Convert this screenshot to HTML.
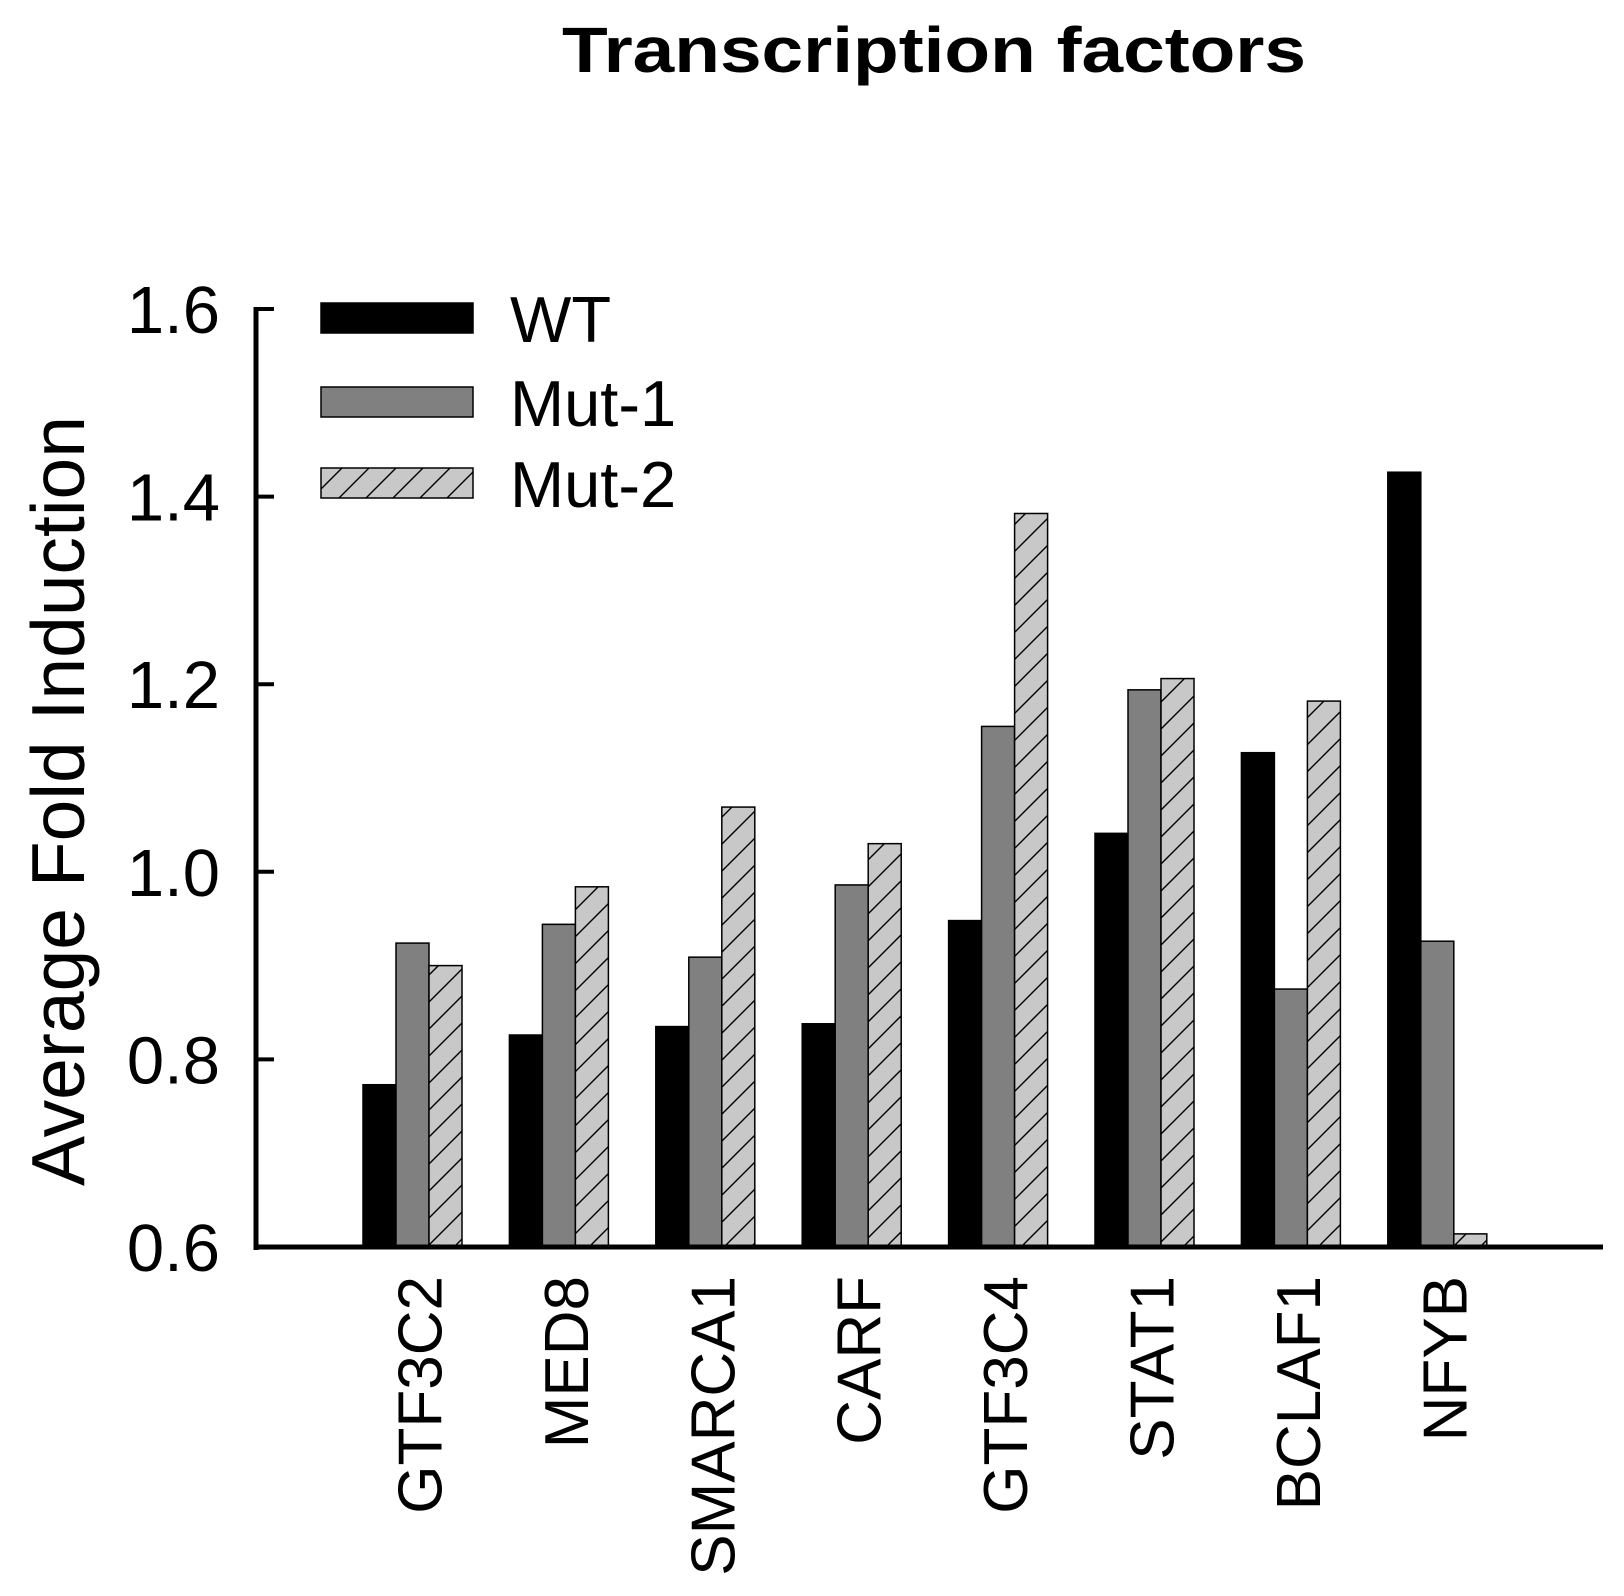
<!DOCTYPE html>
<html><head><meta charset="utf-8"><style>
html,body{margin:0;padding:0;background:#fff;}
svg{display:block;font-family:"Liberation Sans",Arial,sans-serif;}
</style></head><body>
<svg id="chart" width="1624" height="1596" viewBox="0 0 1624 1596" xmlns="http://www.w3.org/2000/svg">
<defs>
<pattern id="hatch" patternUnits="userSpaceOnUse" width="27" height="27">
<rect width="27" height="27" fill="#c8c8c8"/>
<path d="M-2,29 L29,-2 M-15,15 L15,-15 M12,42 L42,12" stroke="#000" stroke-width="1.4"/>
</pattern>
</defs>
<text x="934" y="72" text-anchor="middle" font-size="64" font-weight="bold" textLength="744" lengthAdjust="spacingAndGlyphs">Transcription factors</text>
<g id="plot"></g>
</svg>
<script>
const categories = ["GTF3C2","MED8","SMARCA1","CARF","GTF3C4","STAT1","BCLAF1","NFYB"];
const wtValues = [0.773,0.826,0.835,0.838,0.948,1.041,1.127,1.426];
const mut1Values = [0.924,0.944,0.909,0.986,1.155,1.194,0.875,0.926];
const mut2Values = [0.900,0.984,1.069,1.030,1.382,1.206,1.182,0.614];
const yTicks = [0.6,0.8,1.0,1.2,1.4,1.6];
const yTickLabels = ["0.6","0.8","1.0","1.2","1.4","1.6"];
const seriesNames = ["WT","Mut-1","Mut-2"];

const NS="http://www.w3.org/2000/svg";
const g=document.getElementById('plot');
const y0=1247, y1=309, vmin=0.6, vmax=1.6;
const yScale=v=>y0-(v-vmin)/(vmax-vmin)*(y0-y1);
const groupStart=363, groupStep=146.4, barW=33;
const xScale=(i,s)=>groupStart+i*groupStep+s*barW;
function mk(tag,attrs){const e=document.createElementNS(NS,tag);for(const k in attrs)e.setAttribute(k,attrs[k]);g.appendChild(e);return e;}
const fills=["#000","#808080","url(#hatch)"];
const series=[wtValues,mut1Values,mut2Values];
series.forEach((vals,s)=>{
  vals.forEach((v,i)=>{
    const yt=yScale(v);
    const r=mk('rect',{x:xScale(i,s),y:yt,width:barW,height:y0-yt,fill:fills[s],stroke:"#000","stroke-width":1.5});
    
    
  });
});
const ya=mk('line',{x1:256,y1:307,x2:256,y2:1250,stroke:"#000","stroke-width":5});


const xa=mk('line',{x1:254,y1:1247,x2:1603,y2:1247,stroke:"#000","stroke-width":5});


yTicks.forEach((t,i)=>{
  const yy=yScale(t);
  const tk=mk('line',{x1:256,y1:yy,x2:274,y2:yy,stroke:"#000","stroke-width":4});
  
  
  const tl=mk('text',{x:220,y:yy+24,"text-anchor":"end","font-size":67});
  tl.textContent=yTickLabels[i];
  
  
});
categories.forEach((c,i)=>{
  const cx=xScale(i,1.5);
  const t=mk('text',{x:0,y:0,"text-anchor":"end","font-size":62,transform:`translate(${cx+29},1276) rotate(-90)`});
  t.textContent=c;
  
  
});
const yt=mk('text',{x:0,y:0,"text-anchor":"middle","font-size":75,transform:"translate(84,801) rotate(-90)"});
yt.textContent="Average Fold Induction";


const legY=[303,387,468];
seriesNames.forEach((n,s)=>{
  const sw=mk('rect',{x:321,y:legY[s],width:152,height:30,fill:fills[s],stroke:"#000","stroke-width":1.5});
  
  
  const lt=mk('text',{x:510,y:legY[s]+39,"font-size":65});
  lt.textContent=n;
  
  
});
</script>
</body></html>
